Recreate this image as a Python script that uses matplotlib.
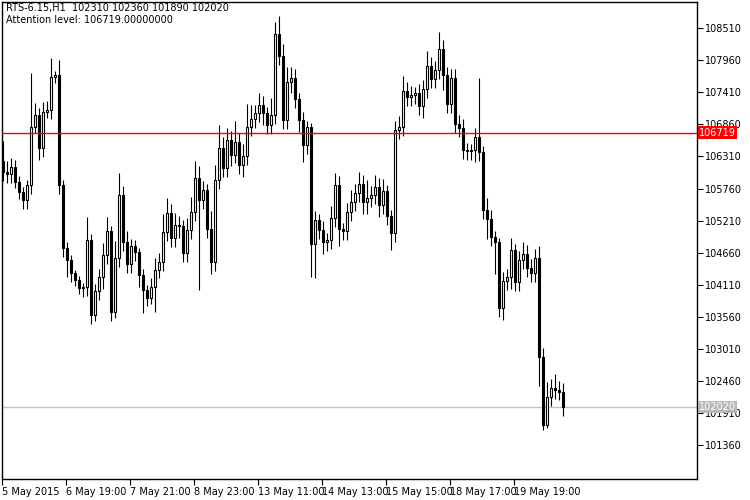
import numpy as np
import matplotlib.pyplot as plt

# close prices per H1 candle
closes = [106040, 106010, 106130, 105870, 105700, 105560, 105820, 106810, 107020, 106450,
          107070, 107110, 107670, 107700, 105820, 104740, 104540, 104310, 104190, 104060,
          104070, 104880, 103590, 104000, 104240, 104620, 105030, 103650, 104570, 105650,
          104840, 104470, 104780, 104670, 104280, 104020, 103890, 104070, 104370, 104500,
          105020, 105340, 104910, 105140, 105120, 104660, 105050, 105360, 105940, 105560,
          105740, 105070, 104500, 105910, 106450, 106110, 106590, 106340, 106560, 106160,
          106320, 106810, 106950, 107050, 107190, 107050, 106850, 107020, 108410, 108030,
          106930, 107590, 107650, 107290, 106930, 106510, 106810, 104810, 105220, 105050,
          104840, 104880, 105260, 105820, 105070, 105030, 105360, 105530, 105680, 105840,
          105530, 105600, 105650, 105790, 105480, 105720, 105290, 105000, 106760, 106810,
          107430, 107330, 107360, 107400, 107170, 107470, 107860, 107640, 107790, 108150,
          107700, 107210, 107650, 106870, 106800, 106420, 106400, 106420, 106640, 106390,
          105390, 105240, 104930, 104840, 103710, 104180, 104240, 104710, 104160, 104540,
          104640, 104400, 104310, 104570, 102880, 101710, 102190, 102340, 102310, 102280,
          102020]
first_open = 106240

# wick extensions above / below the body (price units)
up_wick = [340, 200, 150, 120, 100, 80, 90, 925, 200, 120,
           180, 150, 325, 80, 260, 80, 100, 80, 60, 80,
           80, 400, 100, 120, 150, 200, 250, 90, 300, 375,
           150, 200, 120, 100, 80, 100, 80, 150, 200, 150,
           300, 250, 150, 200, 150, 100, 200, 250, 300, 200,
           150, 100, 300, 250, 400, 200, 200, 150, 350, 150,
           200, 400, 250, 150, 200, 150, 100, 300, 200, 300,
           200, 250, 200, 150, 100, 150, 100, 80, 150, 100,
           150, 120, 200, 200, 150, 100, 150, 200, 150, 200,
           150, 300, 150, 200, 150, 200, 100, 100, 150, 200,
           250, 150, 150, 100, 150, 150, 250, 150, 150, 300,
           150, 150, 150, 150, 150, 150, 120, 100, 150, 1020,
           100, 200, 150, 100, 80, 150, 150, 200, 100, 150,
           200, 150, 150, 150, 200, 150, 250, 150, 250, 150,
           150]
dn_wick = [150, 150, 150, 100, 120, 150, 150, 150, 100, 200,
           150, 100, 150, 100, 150, 150, 300, 150, 100, 100,
           150, 150, 150, 100, 150, 200, 150, 150, 100, 150,
           150, 150, 150, 150, 200, 390, 150, 100, 430, 150,
           150, 150, 150, 150, 200, 150, 150, 150, 150, 1540,
           150, 150, 200, 150, 150, 150, 150, 200, 150, 150,
           200, 150, 150, 150, 150, 200, 150, 150, 150, 150,
           150, 150, 200, 150, 200, 300, 150, 560, 580, 150,
           200, 150, 150, 150, 300, 150, 150, 150, 150, 150,
           200, 200, 150, 150, 200, 150, 150, 300, 150, 150,
           150, 150, 150, 150, 150, 200, 150, 150, 150, 150,
           250, 150, 150, 150, 150, 150, 150, 150, 200, 150,
           150, 350, 150, 550, 150, 200, 150, 200, 150, 150,
           150, 150, 150, 150, 500, 80, 50, 150, 150, 150,
           150]

attention = 106719
last_price = 102020
yticks = [108510, 107960, 107410, 106860, 106310, 105760, 105210, 104660,
          104110, 103560, 103010, 102460, 101910, 101360]
xlabels = ['5 May 2015', '6 May 19:00', '7 May 21:00', '8 May 23:00', '13 May 11:00',
           '14 May 13:00', '15 May 15:00', '18 May 17:00', '19 May 19:00']

closes = np.array(closes)
opens = np.concatenate([[first_open], closes[:-1]])
highs = np.maximum(opens, closes) + np.array(up_wick)
lows = np.minimum(opens, closes) - np.array(dn_wick)
idx = np.arange(len(closes))

fig = plt.figure(figsize=(7.5, 5), dpi=100)
ax = fig.add_axes([2 / 750, 21 / 500, 695 / 750, 477 / 500])

ax.vlines(idx, lows, highs, color='black', linewidth=0.8, zorder=2)
up = closes >= opens
body_h = np.maximum(np.abs(closes - opens), 15)
ax.bar(idx[up], body_h[up], bottom=opens[up], width=0.6, color='white',
       edgecolor='black', linewidth=0.8, zorder=3)
ax.bar(idx[~up], body_h[~up], bottom=closes[~up], width=0.6, color='black',
       edgecolor='black', linewidth=0.8, zorder=3)

ax.axhline(attention, color='red', linewidth=1, zorder=4)
ax.axhline(last_price, color='#c0c0c0', linewidth=1, zorder=1)

ax.set_xlim(-0.25, 173.5)
ax.set_ylim(100785, 108956)

ax.yaxis.tick_right()
ax.set_yticks(yticks)
ax.set_yticklabels([str(v) for v in yticks])
ax.set_xticks([-0.25 + 16 * k for k in range(len(xlabels))])
ax.set_xticklabels(xlabels, ha='left')
ax.tick_params(labelsize=7, length=4, width=0.8, pad=2, colors='black')
for s in ax.spines.values():
    s.set_linewidth(1)

trans = ax.get_yaxis_transform()
ax.text(1.003, attention, str(attention), transform=trans, va='center', ha='left',
        fontsize=7, color='white', bbox=dict(facecolor='red', edgecolor='none', pad=1))
ax.text(1.003, last_price, str(last_price), transform=trans, va='center', ha='left',
        fontsize=7, color='white', bbox=dict(facecolor='#b8b8b8', edgecolor='none', pad=1))

ax.text(0.006, 0.997, 'RTS-6.15,H1  102310 102360 101890 102020', transform=ax.transAxes,
        fontsize=7, va='top', ha='left')
ax.text(0.006, 0.972, 'Attention level: 106719.00000000', transform=ax.transAxes,
        fontsize=7, va='top', ha='left')

fig.savefig('out.png', dpi=100)
